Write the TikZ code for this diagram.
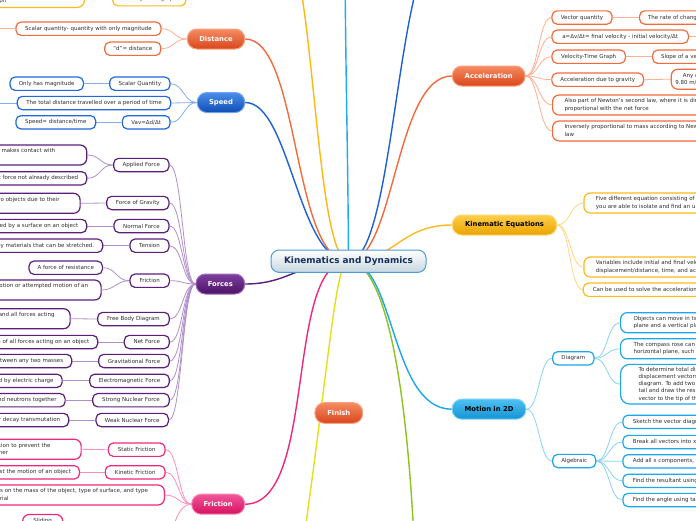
\documentclass[tikz,border=0pt]{standalone}
\usepackage{fontspec}
\setmainfont{DejaVu Sans}
\pgfdeclarelayer{back}\pgfdeclarelayer{bg}\pgfsetlayers{back,bg,main}
\definecolor{txt}{HTML}{2E2E2E}
\definecolor{dTop}{HTML}{F58B61}\definecolor{dBot}{HTML}{D9461D}\definecolor{dRim}{HTML}{F9A27F}
\definecolor{sTop}{HTML}{4A8DEB}\definecolor{sBot}{HTML}{0F4EB5}\definecolor{sRim}{HTML}{6FA3EE}
\definecolor{fTop}{HTML}{7E3F9E}\definecolor{fBot}{HTML}{4C1265}\definecolor{fRim}{HTML}{A070BC}
\definecolor{pTop}{HTML}{F2559A}\definecolor{pBot}{HTML}{D6115F}\definecolor{pRim}{HTML}{F78AB6}
\definecolor{kTop}{HTML}{FFCF4A}\definecolor{kBot}{HTML}{E9A300}\definecolor{kRim}{HTML}{FFD873}
\definecolor{mTop}{HTML}{4CC0F2}\definecolor{mBot}{HTML}{1493D3}\definecolor{mRim}{HTML}{7ED2F6}
\definecolor{cBot}{HTML}{C6D7E0}\definecolor{cRim}{HTML}{4E9BD4}\definecolor{cText}{HTML}{17305A}
\definecolor{dLeaf}{HTML}{F26B3D}\definecolor{sLeaf}{HTML}{1F68DD}\definecolor{fLeaf}{HTML}{5B1E7B}
\definecolor{pLeaf}{HTML}{F0287B}\definecolor{kLeaf}{HTML}{FDBA1E}\definecolor{mLeaf}{HTML}{1CA6EC}
\definecolor{dCon}{HTML}{FFAF93}\definecolor{sCon}{HTML}{86AEEE}\definecolor{fCon}{HTML}{B18FCB}
\definecolor{pCon}{HTML}{FF8DBC}\definecolor{kCon}{HTML}{FFD780}\definecolor{mCon}{HTML}{8AD3F7}
\definecolor{sMain}{HTML}{1F5FD6}\definecolor{gMain}{HTML}{FDB813}\definecolor{cyMain}{HTML}{1EAAF1}
\definecolor{yMain}{HTML}{E3DF1D}\definecolor{grMain}{HTML}{8DC21F}
\newcommand\lfnt{\fontsize{5.5}{7.3}\selectfont}
\newcommand\mfnt{\fontsize{6.8}{8}\selectfont\bfseries}
\newcommand\cfnt{\fontsize{8.9}{10}\selectfont\bfseries}
\newcommand\linesL[1]{\begin{tabular}{@{}l@{}}#1\end{tabular}}
\newcommand\linesC[1]{\begin{tabular}{@{}c@{}}#1\end{tabular}}
\newcommand\padR[1]{\kern#1\relax}
\tikzset{
  leaf/.style={draw=#1, line width=1.2pt, fill=white, rounded corners=5pt, font=\lfnt, text=txt,
    inner xsep=8.5pt, inner ysep=1pt, minimum height=13.3pt},
  two/.style={minimum height=20pt, rounded corners=6.5pt},
  mn/.style n args={4}{top color=#1, bottom color=#2, draw=#3, text=#4, font=\mfnt,
    rounded corners=9.5pt, minimum height=20pt, line width=1pt, inner sep=0pt},
  maincon/.style={draw=#1, line width=1.4pt},
  childcon/.style={draw=#1, line width=0.8pt}
}
\newcommand\lconn[3]{\draw[childcon=#1] (#2.west) .. controls +(-13,0) and +(13,0) .. (#3.east);}
\newcommand\rconn[3]{\draw[childcon=#1] (#2.east) .. controls +(13,0) and +(-13,0) .. (#3.west);}
\begin{document}
\begin{tikzpicture}[x=1pt,y=-1pt]
\useasboundingbox (0,0) rectangle (696,520);
\begin{pgfonlayer}{back}
\fill[white] (0,0) rectangle (696,520);
\end{pgfonlayer}

% centre
\node[mn={white}{cBot}{cRim}{cText}, font=\cfnt, minimum width=155pt, minimum height=22.3pt, rounded corners=8pt] (center) at (348.5,261.2) {Kinematics and Dynamics};

% Distance
\node[mn={dTop}{dBot}{dRim}{white}, minimum width=57.4pt] (dist) at (216,39) {Distance};
\node[leaf=dLeaf, minimum width=145pt] (distA) at (88.5,28.7) {Scalar quantity- quantity with only magnitude};
\node[leaf=dLeaf, minimum width=56pt] (distB) at (132.8,48.7) {“d”= distance};
\coordinate (distAx) at (-10,28.7);

% Speed
\node[mn={sTop}{sBot}{sRim}{white}, minimum width=47.4pt] (speed) at (221,102.5) {Speed};
\node[leaf=sLeaf, minimum width=60.3pt] (spdA) at (139.8,83.7) {Scalar Quantity};
\node[leaf=sLeaf, minimum width=73.3pt] (spdA1) at (46.7,83.7) {Only has magnitude};
\node[leaf=sLeaf, minimum width=153.4pt] (spdB) at (94,103) {The total distance travelled over a period of time};
\coordinate (spdBx) at (-10,103);
\node[leaf=sLeaf, minimum width=47.7pt] (spdC) at (146.2,122.3) {Vav=Δd/Δt};
\node[leaf=sLeaf, minimum width=79.7pt] (spdC1) at (55.8,122.3) {Speed= distance/time};

% Forces
\node[mn={fTop}{fBot}{fRim}{white}, minimum width=48.7pt] (forces) at (220.3,284) {Forces};
\node[leaf=fLeaf, minimum width=55.3pt] (fA) at (141.3,165) {Applied Force};
\node[leaf=fLeaf, two, anchor=east] (fA1) at (87.3,155) {\linesL{A force applied to an object by a person or another object that makes contact with\\it}\padR{23pt}};
\node[leaf=fLeaf, anchor=east] (fA2) at (87.3,178.3) {Any other contact force not already described};
\node[leaf=fLeaf, minimum width=62.3pt] (fB) at (137.8,203) {Force of Gravity};
\node[leaf=fLeaf, two, anchor=east] (fB1) at (80.7,203.3) {\linesL{The force of attraction between two objects due to their\\masses}\padR{12pt}};
\node[leaf=fLeaf, minimum width=55pt] (fC) at (141.5,226) {Normal Force};
\node[leaf=fLeaf, anchor=east] (fC1) at (87.3,226) {The support force exerted by a surface on an object};
\node[leaf=fLeaf, minimum width=39pt] (fD) at (149.5,245.7) {Tension};
\node[leaf=fLeaf, anchor=east] (fD1) at (103.3,245.7) {A pulling force exerted by materials that can be stretched.};
\node[leaf=fLeaf, minimum width=39.3pt] (fE) at (149.7,280.7) {Friction};
\node[leaf=fLeaf, minimum width=73.3pt] (fE1) at (65.7,267.7) {A force of resistance};
\node[leaf=fLeaf, two, anchor=east] (fE2) at (101.7,290) {\linesL{A force that opposes the motion or attempted motion of an\\object}\padR{4.5pt}};
\node[leaf=fLeaf, minimum width=71.6pt] (fF) at (133.5,319) {Free Body Diagram};
\node[leaf=fLeaf, two, anchor=east] (fF1) at (70.7,318.7) {\linesL{A diagram showing an object and all forces acting\\on it}\padR{7pt}};
\node[leaf=fLeaf, minimum width=45pt] (fG) at (146.8,342) {Net Force};
\node[leaf=fLeaf, anchor=east] (fG1) at (98.3,342) {The vector sum of all forces acting on an object};
\node[leaf=fLeaf, minimum width=70.6pt] (fH) at (134,361) {Gravitational Force};
\node[leaf=fLeaf, anchor=east] (fH1) at (72.3,361) {The force of attraction between any two masses};
\node[leaf=fLeaf, minimum width=79.6pt] (fI) at (129.5,380.8) {Electromagnetic Force};
\node[leaf=fLeaf, anchor=east] (fI1) at (62.7,380.8) {The force caused by electric charge};
\node[leaf=fLeaf, minimum width=76.6pt] (fJ) at (131,400.2) {Strong Nuclear Force};
\node[leaf=fLeaf, anchor=east] (fJ1) at (65.7,400.2) {The force that holds protons and neutrons together};
\node[leaf=fLeaf, minimum width=72.3pt] (fK) at (132.2,420) {Weak Nuclear Force};
\node[leaf=fLeaf, anchor=east] (fK1) at (69.3,420) {The force responsible for nuclear decay transmutation};

% Friction
\node[mn={pTop}{pBot}{pRim}{white}, minimum width=53pt] (fric) at (218.2,504.2) {Friction};
\node[leaf=pLeaf, minimum width=56.7pt] (rA) at (136.7,449.7) {Static Friction};
\node[leaf=pLeaf, two, anchor=east] (rA1) at (81.7,449.3) {\linesL{Force that acts in the opposite direction to prevent the\\object from moving across one another}\padR{22pt}};
\node[leaf=pLeaf, minimum width=59.7pt] (rB) at (135.2,472.3) {Kinetic Friction};
\node[leaf=pLeaf, anchor=east] (rB1) at (80,472.3) {Force that acts against the motion of an object};
\node[leaf=pLeaf, two, anchor=east] (rC) at (165,495) {\linesL{Depends on the mass of the object, type of surface, and type\\of material}\padR{8pt}};
\node[leaf=pLeaf, two, minimum width=40pt] (rD) at (42.7,524.5) {\linesC{Sliding\\Friction}};
\coordinate (rEx) at (165,545);

% Finish
\node[mn={dTop}{dBot}{dRim}{white}, minimum width=47.7pt, minimum height=20.6pt] (finish) at (338.8,413) {Finish};

% top-left (velocity branch, mostly off the page)
\node[leaf=kLeaf, anchor=south east, minimum height=27pt, rounded corners=7pt] (tg1) at (85,8) {\linesL{Displacement can be determined by\\calculating the area under a\\velocity-time graph}\padR{23pt}};
\node[leaf=kLeaf, minimum width=73pt] (tg2) at (149.3,-0.8) {Velocity -time graph};
\coordinate (topgold) at (282,-60);
\coordinate (topcyan) at (345,-60);
\coordinate (topblue) at (445,-60);
\coordinate (botyellow) at (298,580);
\coordinate (botgreen) at (415,560);

% Acceleration
\node[mn={dTop}{dBot}{dRim}{white}, minimum width=72.7pt] (accel) at (488.7,76) {Acceleration};
\node[leaf=dLeaf, minimum width=60pt] (aA) at (582,17.5) {Vector quantity};
\node[leaf=dLeaf, anchor=west] (aA1) at (639,17.5) {The rate of change of velocity};
\node[leaf=dLeaf, minimum width=136.3pt] (aB) at (620.2,36.7) {a=Δv/Δt= final velocity - initial velocity/Δt};
\coordinate (aBx) at (710,36.7);
\node[leaf=dLeaf, minimum width=73.3pt] (aC) at (588.7,56.7) {Velocity-Time Graph};
\node[leaf=dLeaf, anchor=west] (aC1) at (652,56.7) {Slope of a velocity-time graph};
\node[leaf=dLeaf, minimum width=91.3pt] (aD) at (597.7,79.7) {Acceleration due to gravity};
\node[leaf=dLeaf, two, anchor=west, inner xsep=4pt] (aD1) at (670.7,79.2) {\linesC{Any object in free fall accelerates at\\9.80 m/s² towards the centre of the Earth}};
\node[leaf=dLeaf, two, anchor=west, inner xsep=12pt] (aE) at (552,105) {\linesL{Also part of Newton’s second law, where it is directly\\proportional with the net force}};
\node[leaf=dLeaf, two, anchor=west, inner xsep=12pt] (aF) at (552,131) {\linesL{Inversely proportional to mass according to Newton’s second\\law}};

% Kinematic equations
\node[mn={kTop}{kBot}{kRim}{black}, minimum width=104.4pt] (kin) at (504.5,225) {Kinematic Equations};
\node[leaf=kLeaf, two, anchor=west, inner xsep=12pt] (kA) at (583.3,203) {\linesL{Five different equation consisting of five variables, where\\you are able to isolate and find an unknown variable}};
\node[leaf=kLeaf, two, anchor=west, inner xsep=12pt] (kB) at (583.3,267) {\linesL{Variables include initial and final velocity,\\displacement/distance, time, and acceleration}};
\node[leaf=kLeaf, anchor=west, inner xsep=9.5pt] (kC) at (582.7,289.7) {Can be used to solve the acceleration of an object};

% Motion in 2D
\node[mn={mTop}{mBot}{mRim}{black}, minimum width=73.7pt] (motion) at (489,409.2) {Motion in 2D};
\node[leaf=mLeaf, minimum width=41.3pt] (diag) at (573.3,358.3) {Diagram};
\node[leaf=mLeaf, two, anchor=west, inner xsep=13pt] (dA) at (620,322.7) {\linesL{Objects can move in two planes, a horizontal\\plane and a vertical plane}};
\node[leaf=mLeaf, two, anchor=west, inner xsep=13pt] (dB) at (620,348.8) {\linesL{The compass rose can be used to describe the\\horizontal plane, such as [N 30° E]}};
\node[leaf=mLeaf, anchor=west, inner xsep=18pt, minimum height=39.7pt, rounded corners=9pt] (dC) at (620,384.2) {\linesL{To determine total displacement, add the\\displacement vectors together using a vector\\diagram. To add two vectors, connect tip to\\tail and draw the resultant from the tail of the first\\vector to the tip of the last}};
\node[leaf=mLeaf, minimum width=43pt] (alg) at (574.2,461) {Algebraic};
\node[leaf=mLeaf, anchor=west, inner xsep=10pt] (gA) at (622.3,421.8) {Sketch the vector diagram};
\node[leaf=mLeaf, anchor=west, inner xsep=10pt] (gB) at (622.3,442) {Break all vectors into x and y components};
\node[leaf=mLeaf, anchor=west, inner xsep=10pt] (gC) at (622.3,461.3) {Add all x components, then add all y components};
\node[leaf=mLeaf, anchor=west, inner xsep=10pt] (gD) at (622.3,480.8) {Find the resultant using Pythagorean theorem};
\node[leaf=mLeaf, anchor=west, inner xsep=10pt] (gE) at (622.3,500) {Find the angle using tangent};

\begin{pgfonlayer}{bg}
% main branches
\draw[maincon=dLeaf] (dist.east) .. controls (300,39) and (292,261) .. (center.center);
\draw[maincon=sMain] (speed.east) .. controls (290,102.5) and (298,261) .. (center.center);
\draw[maincon=gMain] (center.center) .. controls (314,261) and (314,-60) .. (topgold);
\draw[maincon=cyMain] (center.center) .. controls (348,150) and (345,50) .. (topcyan);
\draw[maincon=sMain] (center.center) .. controls (396,261) and (396,-60) .. (topblue);
\draw[maincon=dLeaf] (center.center) .. controls (395,261) and (395,76) .. (accel.west);
\draw[maincon=kLeaf] (center.center) .. controls (395,261) and (400,225) .. (kin.west);
\draw[maincon=fLeaf] (center.center) .. controls (300,261) and (290,284) .. (forces.east);
\draw[maincon=pLeaf] (center.center) .. controls (284,261) and (318,504) .. (fric.east);
\draw[maincon=yMain] (center.center) .. controls (335,261) and (330,360) .. (botyellow);
\draw[maincon=grMain] (center.center) .. controls (375,261) and (405,330) .. (botgreen);
\draw[maincon=mLeaf] (center.center) .. controls (395,261) and (390,409) .. (motion.west);
% distance
\lconn{dCon}{dist}{distA}\lconn{dCon}{dist}{distB}
\draw[childcon=dCon] (distA.west) -- (distAx);
% speed
\lconn{sCon}{speed}{spdA}\lconn{sCon}{speed}{spdB}\lconn{sCon}{speed}{spdC}
\draw[childcon=sCon] (spdA.west) -- (spdA1.east);
\draw[childcon=sCon] (spdB.west) -- (spdBx);
\draw[childcon=sCon] (spdC.west) -- (spdC1.east);
% forces
\foreach \c in {fA,fB,fC,fD,fE,fF,fG,fH,fI,fJ,fK}{\lconn{fCon}{forces}{\c}}
\lconn{fCon}{fA}{fA1}\lconn{fCon}{fA}{fA2}
\lconn{fCon}{fE}{fE1}\lconn{fCon}{fE}{fE2}
\foreach \c in {fB,fC,fD,fF,fG,fH,fI,fJ,fK}{\draw[childcon=fCon] (\c.west) -- (\c1.east);}
% friction
\lconn{pCon}{fric}{rA}\lconn{pCon}{fric}{rB}\lconn{pCon}{fric}{rC}
\draw[childcon=pCon] (fric.west) .. controls +(-13,0) and +(10,-20) .. (rEx);
\draw[childcon=pCon] (rA.west) -- (rA1.east);
\draw[childcon=pCon] (rB.west) -- (rB1.east);
% acceleration
\foreach \c in {aA,aB,aC,aD,aE,aF}{\rconn{dCon}{accel}{\c}}
\draw[childcon=dCon] (aA.east) -- (aA1.west);
\draw[childcon=dCon] (aB.east) -- (aBx);
\draw[childcon=dCon] (aC.east) -- (aC1.west);
\draw[childcon=dCon] (aD.east) -- (aD1.west);
% kinematic
\foreach \c in {kA,kB,kC}{\rconn{kCon}{kin}{\c}}
% motion
\rconn{mCon}{motion}{diag}\rconn{mCon}{motion}{alg}
\foreach \c in {dA,dB,dC}{\rconn{mCon}{diag}{\c}}
\foreach \c in {gA,gB,gC,gD,gE}{\rconn{mCon}{alg}{\c}}
\end{pgfonlayer}
\end{tikzpicture}
\end{document}
